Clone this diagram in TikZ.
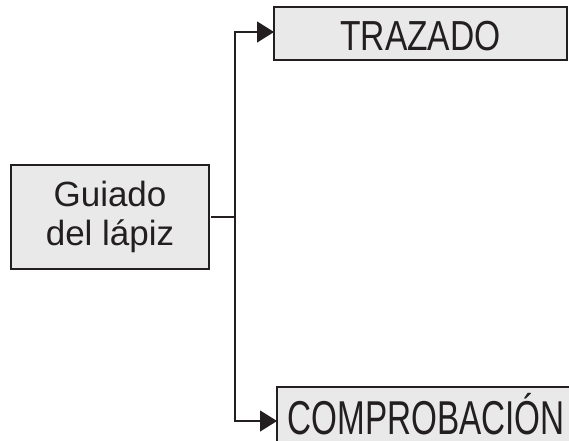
\documentclass[tikz,border=0pt]{standalone}
\usepackage{fontspec}
\setmainfont{Liberation Sans}
\newfontfamily\narrowfont[FakeStretch=0.80]{Liberation Sans}
\newfontfamily\narrowerfont[FakeStretch=0.70]{Liberation Sans}
\usetikzlibrary{arrows.meta,positioning}
\usepackage{xcolor}
\definecolor{boxgray}{RGB}{233,233,234}
\definecolor{inkdark}{RGB}{35,31,32}

\begin{document}
\begin{tikzpicture}[x=1pt,y=-1pt,
    stepbox/.style={draw=inkdark,line width=2pt,fill=boxgray,text=inkdark,
      inner sep=0pt,outer sep=0pt},
    link/.style={draw=inkdark,line width=1.3pt},
    linkarrow/.style={link,-{Triangle[length=17pt,width=21pt]}}]
  \useasboundingbox (0,0) rectangle (569,440);
  \clip (0,0) rectangle (569,440);
  % boxes
  \node[stepbox,minimum width=198pt,minimum height=104pt,align=center,
    font=\fontsize{35}{39}\selectfont]
    (guide) at (110,217) {Guiado\\del lápiz};
  \node[stepbox,minimum width=293pt,minimum height=53pt,
    font=\narrowfont\fontsize{42}{42}\selectfont,text height=34pt,text depth=0pt]
    (trazado) at (420.5,33.5) {TRAZADO};
  \node[stepbox,anchor=north west,minimum width=298pt,minimum height=60pt,
    font=\narrowerfont\fontsize{47.5}{47.5}\selectfont,text height=34pt,text depth=0pt]
    (comprob) at (277,387) {COMPROBACIÓN};
  % connectors
  \draw[link] ([xshift=2pt]guide.east) -- (235,217) coordinate (fork);
  \draw[linkarrow] (fork) |- ([yshift=1.5pt]trazado.west);
  \draw[linkarrow] (fork) |- ([yshift=-4pt]comprob.west);
\end{tikzpicture}
\end{document}
